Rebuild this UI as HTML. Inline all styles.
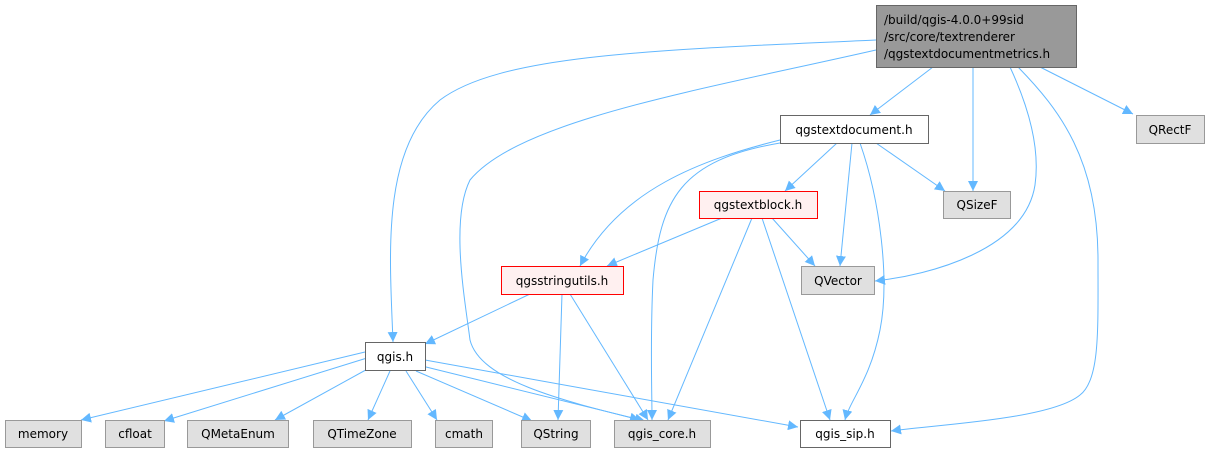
<!DOCTYPE html>
<html><head><meta charset="utf-8"><style>
html,body{margin:0;padding:0;background:#fff;width:1207px;height:451px;overflow:hidden}
text{font-family:"DejaVu Sans","Liberation Sans",sans-serif;font-size:12px;fill:#000}
</style></head><body>
<svg width="1207" height="451" viewBox="0 0 1207 451" xmlns="http://www.w3.org/2000/svg">
<defs><marker id="a" viewBox="0 0 10 10" refX="10" refY="5" markerWidth="10" markerHeight="10" markerUnits="userSpaceOnUse" orient="auto"><path d="M0,0 L10,5 L0,10 z" fill="#63b8ff"/></marker></defs>
<g fill="none" stroke="#63b8ff" stroke-width="1" marker-end="url(#a)">
<path d="M933,67 L870,115"/>
<path d="M973,67 L973,191"/>
<path d="M1040,67 L1133,114"/>
<path d="M1010,67 C1030,110 1040,150 1035,185 C1025,250 930,275 875,281"/>
<path d="M1018,67 C1060,110 1098,160 1098,260 C1098,330 1100,380 1080,395 C1050,420 930,425 891,431"/>
<path d="M876,40 C650,50 500,55 440,100 C380,150 390,260 393,342"/>
<path d="M876,50 C700,90 520,120 470,180 C450,220 465,300 470,340 C480,380 560,400 640,420"/>
<path d="M837,143 L785,191"/>
<path d="M876,143 L945,191"/>
<path d="M852,143 L840,266"/>
<path d="M860,143 C880,200 890,280 880,330 C870,380 850,400 845,420"/>
<path d="M780,140 C700,160 620,190 580,266"/>
<path d="M780,143 C680,160 660,200 653,280 C650,340 652,390 652,420"/>
<path d="M722,218 L607,266"/>
<path d="M772,218 L815,266"/>
<path d="M752,218 L668,420"/>
<path d="M762,218 L830,420"/>
<path d="M530,294 L425,344"/>
<path d="M562,294 L558,420"/>
<path d="M570,294 L648,420"/>
<path d="M365,352 L81,420"/>
<path d="M367,358 L164,421"/>
<path d="M373,366 L275,420"/>
<path d="M390,371 L368,420"/>
<path d="M406,371 L437,420"/>
<path d="M416,371 L532,421"/>
<path d="M422,366 L645,421"/>
<path d="M425,360 L798,427"/>
</g>
<g stroke-width="1">
<rect x="876.5" y="5.5" width="200" height="62" fill="#999" stroke="#666"/>
<rect x="780.5" y="115.5" width="148" height="28" fill="#fff" stroke="#666"/>
<rect x="1136.5" y="115.5" width="68" height="28" fill="#e0e0e0" stroke="#999"/>
<rect x="699.5" y="191.5" width="118" height="27" fill="#fff0f0" stroke="#f00"/>
<rect x="943.5" y="191.5" width="67" height="27" fill="#e0e0e0" stroke="#999"/>
<rect x="501.5" y="266.5" width="122" height="28" fill="#fff0f0" stroke="#f00"/>
<rect x="801.5" y="266.5" width="73" height="28" fill="#e0e0e0" stroke="#999"/>
<rect x="365.5" y="342.5" width="60" height="28" fill="#fff" stroke="#666"/>
<rect x="5.5" y="420.5" width="76" height="27" fill="#e0e0e0" stroke="#999"/>
<rect x="105.5" y="420.5" width="59" height="27" fill="#e0e0e0" stroke="#999"/>
<rect x="187.5" y="420.5" width="101" height="27" fill="#e0e0e0" stroke="#999"/>
<rect x="313.5" y="420.5" width="98" height="27" fill="#e0e0e0" stroke="#999"/>
<rect x="435.5" y="420.5" width="57" height="27" fill="#e0e0e0" stroke="#999"/>
<rect x="521.5" y="420.5" width="69" height="27" fill="#e0e0e0" stroke="#999"/>
<rect x="614.5" y="420.5" width="96" height="27" fill="#e0e0e0" stroke="#999"/>
<rect x="800.5" y="420.5" width="90" height="27" fill="#fff" stroke="#666"/>
</g>
<text x="884" y="24">/build/qgis-4.0.0+99sid</text>
<text x="884" y="41">/src/core/textrenderer</text>
<text x="884" y="58">/qgstextdocumentmetrics.h</text>
<g text-anchor="middle">
<text x="854" y="134">qgstextdocument.h</text>
<text x="1170" y="134">QRectF</text>
<text x="758" y="209">qgstextblock.h</text>
<text x="977" y="209">QSizeF</text>
<text x="562" y="285">qgsstringutils.h</text>
<text x="838" y="285">QVector</text>
<text x="395" y="361">qgis.h</text>
<text x="43" y="438">memory</text>
<text x="135" y="438">cfloat</text>
<text x="238" y="438">QMetaEnum</text>
<text x="362" y="438">QTimeZone</text>
<text x="464" y="438">cmath</text>
<text x="556" y="438">QString</text>
<text x="662" y="438">qgis_core.h</text>
<text x="845" y="438">qgis_sip.h</text>
</g>
</svg>
</body></html>
